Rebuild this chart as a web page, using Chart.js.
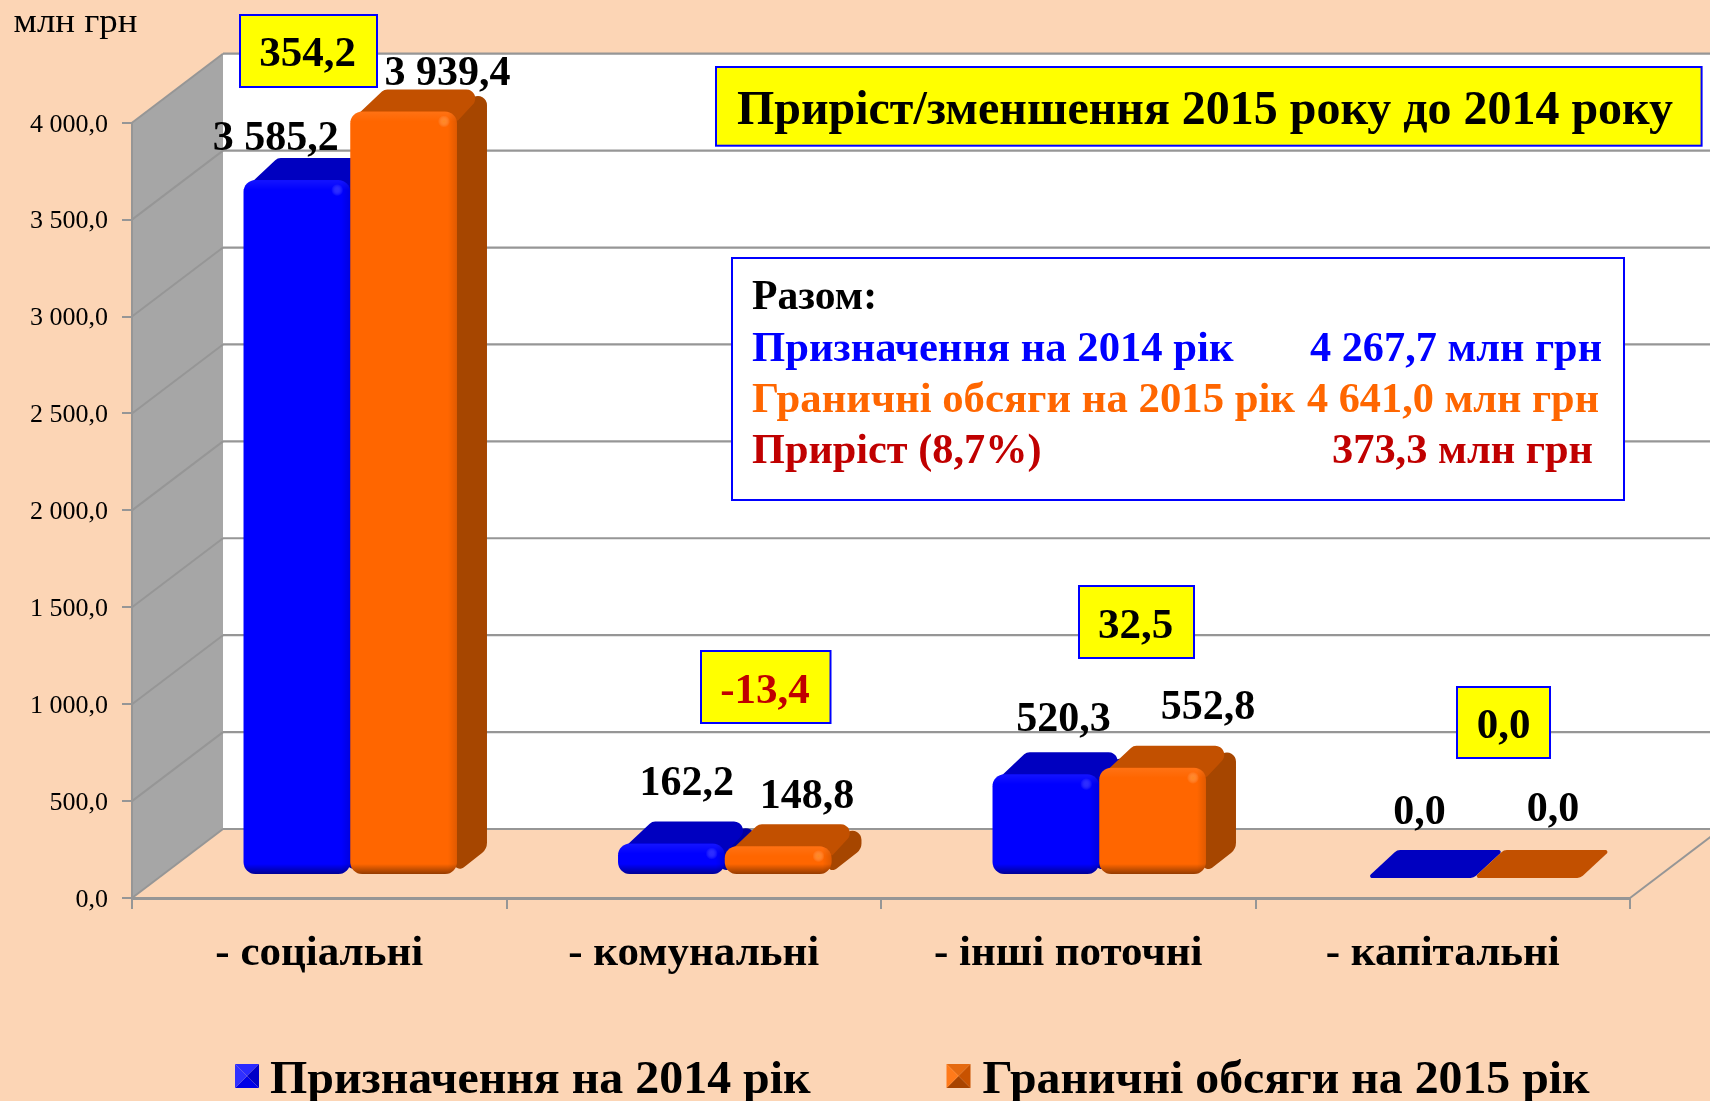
<!DOCTYPE html>
<html lang="uk">
<head>
<meta charset="utf-8">
<title>Приріст/зменшення 2015 року до 2014 року</title>
<style>
html,body{margin:0;padding:0;background:#fcd5b5;overflow:hidden}
canvas{display:block}
</style>
<script src="https://cdn.jsdelivr.net/npm/chart.js@4"></script>
</head>
<body>
<canvas id="c" width="1710" height="1101"></canvas>
<script>
const categories = ['- соціальні', '- комунальні', '- інші поточні', '- капітальні'];
const series2014 = [3585.2, 162.2, 520.3, 0.0];
const series2015 = [3939.4, 148.8, 552.8, 0.0];
const seriesNames = ['Призначення на 2014 рік', 'Граничні обсяги на 2015 рік'];
const deltaLabels = ['354,2', '-13,4', '32,5', '0,0'];
const unitLabel = 'млн грн';
const titleText = 'Приріст/зменшення 2015 року до 2014 року';
const totalsHead = 'Разом:';
const totalsLeft = ['Призначення на 2014 рік', 'Граничні обсяги на 2015 рік', 'Приріст (8,7%)'];
const totalsRight = ['4 267,7 млн грн', '4 641,0 млн грн', '373,3 млн грн'];

const SERIF = '"Liberation Serif", serif';
const GRID = '#969696';
const BG = '#fcd5b5';
const DEPTH = {x: 91, y: 69};      // wall depth
const BAR_POS = {x: 31, y: 23};    // where the bars sit inside the depth
const BAR_EXT = {x: 30, y: 22};    // extrusion of each bar
const faces = [
  {front: '#0000ff', top: '#0000c0', side: '#0000a0', glow: 'rgba(110,110,255,.4)'},
  {front: '#ff6600', top: '#c25000', side: '#a64600', glow: 'rgba(255,170,60,.5)'}
];
const valueLabelAt = [
  [[275.7, 150], [686.8, 795], [1063.4, 730.7], [1419.5, 824]],
  [[447.5, 85], [807, 808], [1208, 719], [1553, 821]]
];
const deltaBoxes = [
  {box: [240, 15, 137, 72], cx: 307.7, base: 66, color: '#000'},
  {box: [701, 651, 129.5, 72], cx: 765, base: 703, color: '#c00000'},
  {box: [1079, 586, 115, 72], cx: 1135.6, base: 638, color: '#000'},
  {box: [1457, 687, 93, 71], cx: 1503.5, base: 738, color: '#000'}
];

function fmt(v) {
  const s = Math.abs(v).toFixed(1).replace('.', ',');
  const [i, d] = s.split(',');
  return i.replace(/\B(?=(\d{3})+$)/g, ' ') + ',' + d;
}
function roundPoly(ctx, pts, radii) {
  const n = pts.length;
  ctx.beginPath();
  const s = [(pts[n - 1][0] + pts[0][0]) / 2, (pts[n - 1][1] + pts[0][1]) / 2];
  ctx.moveTo(s[0], s[1]);
  for (let i = 0; i < n; i++) {
    const p = pts[i], q = pts[(i + 1) % n], o = pts[(i + n - 1) % n];
    const l = Math.min(Math.hypot(p[0] - q[0], p[1] - q[1]), Math.hypot(p[0] - o[0], p[1] - o[1]));
    ctx.arcTo(p[0], p[1], q[0], q[1], Math.min(radii[i], l / 2.2));
  }
  ctx.closePath();
}
function fit(ctx, text, x0, x1, base, font, color) {
  ctx.save();
  ctx.font = font;
  ctx.fillStyle = color;
  ctx.textAlign = 'left';
  ctx.textBaseline = 'alphabetic';
  const w = ctx.measureText(text).width;
  ctx.translate(x0, base);
  ctx.scale((x1 - x0) / w, 1);
  ctx.fillText(text, 0, 0);
  ctx.restore();
}
function centered(ctx, text, cx, base, font, color) {
  ctx.save();
  ctx.font = font;
  ctx.fillStyle = color;
  ctx.textAlign = 'center';
  ctx.textBaseline = 'alphabetic';
  ctx.fillText(text, cx, base);
  ctx.restore();
}
function box(ctx, x, y, w, h, fill) {
  ctx.save();
  ctx.fillStyle = fill;
  ctx.fillRect(x, y, w, h);
  ctx.strokeStyle = '#0000ff';
  ctx.lineWidth = 2;
  ctx.strokeRect(x, y, w, h);
  ctx.restore();
}
function line(ctx, x0, y0, x1, y1, w) {
  ctx.lineWidth = w;
  ctx.beginPath();
  ctx.moveTo(x0, y0);
  ctx.lineTo(x1, y1);
  ctx.stroke();
}

const scene = {
  id: 'scene',
  beforeDraw(chart) {
    const {ctx, chartArea: a, scales: {y}} = chart;
    const W = chart.width;
    const backL = a.left + DEPTH.x, top = a.top - DEPTH.y, floor = a.bottom - DEPTH.y;
    ctx.save();
    ctx.fillStyle = BG;
    ctx.fillRect(0, 0, W, chart.height);
    ctx.fillStyle = '#ffffff';
    ctx.fillRect(backL, top, W - backL, floor - top);
    ctx.fillStyle = '#a6a6a6';
    ctx.beginPath();
    ctx.moveTo(a.left, a.top);
    ctx.lineTo(backL, top);
    ctx.lineTo(backL, floor);
    ctx.lineTo(a.left, a.bottom);
    ctx.closePath();
    ctx.fill();
    ctx.strokeStyle = GRID;
    y.ticks.forEach(t => {
      const yp = y.getPixelForValue(t.value);
      line(ctx, a.left, yp, backL, yp - DEPTH.y, 2);
      line(ctx, backL, yp - DEPTH.y, W, yp - DEPTH.y, 2.2);
    });
    line(ctx, a.right, a.bottom, a.right + DEPTH.x, floor, 2);
    ctx.restore();
  },
  beforeDatasetsDraw(chart) {
    const {ctx, chartArea: a} = chart;
    const ex = BAR_EXT.x, ey = BAR_EXT.y;
    ctx.save();
    ctx.translate(BAR_POS.x, -BAR_POS.y);
    [0, 1].forEach(i => {
      const meta = chart.getDatasetMeta(i), c = faces[i];
      meta.data.forEach(el => {
        const {x, y, base, width} = el.getProps(['x', 'y', 'base', 'width'], true);
        const x0 = x - width / 2, x1 = x + width / 2, h = base - y;
        if (h < 1) {
          ctx.fillStyle = c.top;
          roundPoly(ctx, [[x0, base + 3], [x0 + ex, base - 25], [x1 + ex, base - 25], [x1, base + 3]], [2, 8, 2, 8]);
          ctx.fill();
          return;
        }
        ctx.fillStyle = c.side;
        roundPoly(ctx, [[x1 - 8, y], [x1 + ex, y - ey], [x1 + ex, base - ey - 3], [x1 - 3, base + 1]], [0, 9, 13, 6]);
        ctx.fill();
        ctx.fillStyle = c.top;
        roundPoly(ctx, [[x0, y + 10], [x0 + ex + 4, y - ey], [x1 + ex, y - ey], [x1 + 1, y + 9]], [0, 8, 9, 0]);
        ctx.fill();
        el.draw(ctx, a);
        // soft bevel of the front face
        ctx.save();
        ctx.beginPath();
        ctx.roundRect(x0, y, width, h, 12);
        ctx.clip();
        let g = ctx.createLinearGradient(0, base - 10, 0, base);
        g.addColorStop(0, 'rgba(0,0,0,0)');
        g.addColorStop(1, 'rgba(0,0,0,.42)');
        ctx.fillStyle = g;
        ctx.fillRect(x0, base - 10, width, 10);
        g = ctx.createLinearGradient(x1 - 9, 0, x1, 0);
        g.addColorStop(0, 'rgba(0,0,0,0)');
        g.addColorStop(1, 'rgba(0,0,0,.12)');
        ctx.fillStyle = g;
        ctx.fillRect(x1 - 9, y, 9, h);
        g = ctx.createLinearGradient(0, y, 0, y + 10);
        g.addColorStop(0, 'rgba(255,255,255,.08)');
        g.addColorStop(1, 'rgba(255,255,255,0)');
        ctx.fillStyle = g;
        ctx.fillRect(x0, y, width, 10);
        g = ctx.createRadialGradient(x1 - 13, y + 10, 0, x1 - 13, y + 10, 6);
        g.addColorStop(0, c.glow);
        g.addColorStop(1, 'rgba(255,255,255,0)');
        ctx.fillStyle = g;
        ctx.fillRect(x1 - 20, y + 3, 14, 14);
        ctx.restore();
      });
    });
    ctx.restore();
    return false;
  },
  afterDraw(chart) {
    const {ctx} = chart;
    const bold = s => `bold ${s}px ${SERIF}`;
    // unit
    fit(ctx, unitLabel, 13.6, 137.5, 32, `33px ${SERIF}`, '#000');
    // value labels
    [series2014, series2015].forEach((vals, i) => vals.forEach((v, j) => {
      centered(ctx, fmt(v), valueLabelAt[i][j][0], valueLabelAt[i][j][1], bold(42), '#000');
    }));
    // delta boxes
    deltaBoxes.forEach((d, k) => {
      box(ctx, d.box[0], d.box[1], d.box[2], d.box[3], '#ffff00');
      centered(ctx, deltaLabels[k], d.cx, d.base, bold(43), d.color);
    });
    // title
    box(ctx, 716, 67, 985.6, 78.7, '#ffff00');
    fit(ctx, titleText, 737, 1673, 124, bold(48), '#000');
    // totals
    box(ctx, 732, 258, 892, 242, '#ffffff');
    const cols = ['#0000ff', '#ff6600', '#c00000'];
    fit(ctx, totalsHead, 752, 877, 309, bold(42), '#000');
    const lx = [[752, 1233.5], [752, 1295], [752, 1041.6]];
    const rx = [[1310, 1602], [1307, 1599], [1332, 1593]];
    const by = [361, 412.3, 463];
    totalsLeft.forEach((t, i) => {
      fit(ctx, t, lx[i][0], lx[i][1], by[i], bold(42), cols[i]);
      fit(ctx, totalsRight[i], rx[i][0], rx[i][1], by[i], bold(42), cols[i]);
    });
    // legend
    const leg = [
      {mx: 235, tx: [270, 810.6], c: ['#2a2aff', '#0000c8', '#0000e8', '#3030ff']},
      {mx: 946.5, tx: [982.6, 1589.6], c: ['#e56a10', '#c85200', '#a84400', '#ff7a1a']}
    ];
    leg.forEach((l, i) => {
      const x = l.mx, y = 1064, s = 24, m = [x + s / 2, y + s / 2];
      const corners = [[x, y], [x + s, y], [x + s, y + s], [x, y + s]];
      [0, 1, 2, 3].forEach(k => {
        const a = corners[k], b = corners[(k + 1) % 4];
        ctx.fillStyle = l.c[k];
        ctx.beginPath();
        ctx.moveTo(a[0], a[1]);
        ctx.lineTo(b[0], b[1]);
        ctx.lineTo(m[0], m[1]);
        ctx.closePath();
        ctx.fill();
      });
      fit(ctx, chart.data.datasets[i].label, l.tx[0], l.tx[1], 1092.7, bold(47), '#000');
    });
  }
};

new Chart(document.getElementById('c'), {
  type: 'bar',
  data: {
    labels: categories,
    datasets: [
      {label: seriesNames[0], data: series2014, backgroundColor: faces[0].front},
      {label: seriesNames[1], data: series2015, backgroundColor: faces[1].front}
    ]
  },
  options: {
    responsive: false,
    animation: false,
    events: [],
    layout: {padding: {left: 0, right: 80, top: 122.7, bottom: 0}},
    datasets: {bar: {categoryPercentage: 0.57, barPercentage: 1, borderRadius: 12, borderSkipped: false, borderWidth: 0}},
    plugins: {legend: {display: false}, tooltip: {enabled: false}, title: {display: false}},
    scales: {
      x: {
        afterFit(s) { s.height = 203; },
        grid: {drawOnChartArea: false, drawTicks: true, tickLength: 11, color: GRID, lineWidth: 2},
        border: {display: true, color: GRID, width: 3},
        ticks: {
          autoSkip: false, maxRotation: 0, padding: 19, color: '#000',
          font: {family: SERIF, size: 43, weight: 'bold'}
        }
      },
      y: {
        min: 0, max: 4000,
        afterFit(s) { s.width = 132; },
        grid: {drawOnChartArea: false, drawTicks: true, tickLength: 10, color: GRID, lineWidth: 2},
        border: {display: true, color: GRID, width: 2},
        ticks: {
          stepSize: 500, padding: 14, color: '#000', labelOffset: 2,
          font: {family: SERIF, size: 26},
          callback: v => fmt(v)
        }
      }
    }
  },
  plugins: [scene]
});
</script>
</body>
</html>
